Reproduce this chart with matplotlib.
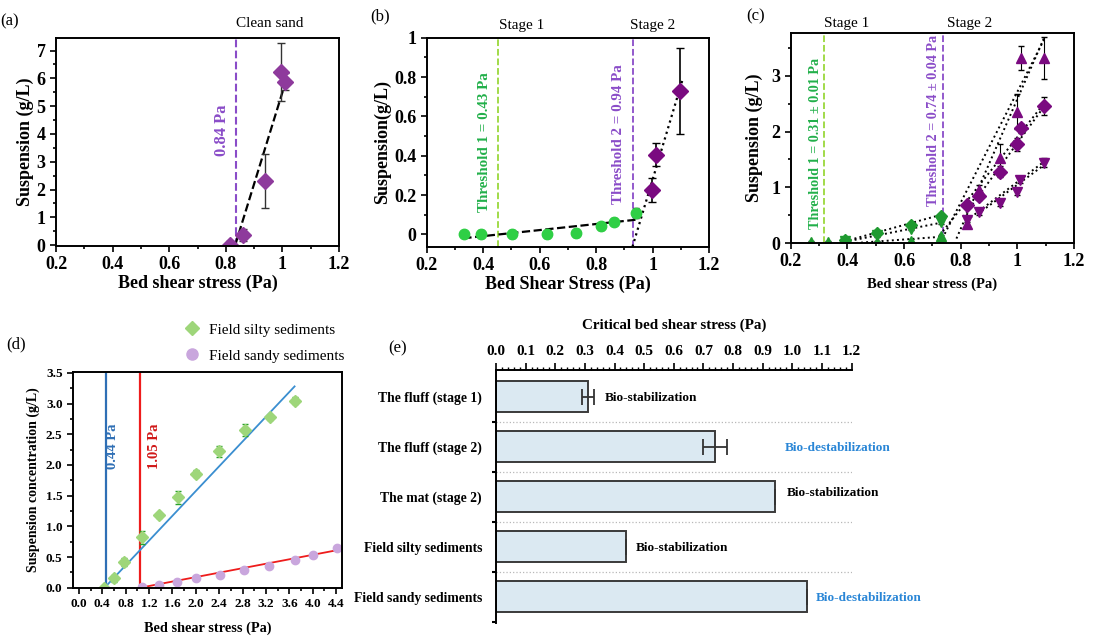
import numpy as np
import matplotlib.pyplot as plt
from matplotlib.ticker import MultipleLocator
from matplotlib.lines import Line2D

plt.rcParams['font.family'] = ['Liberation Serif', 'DejaVu Serif']

# ---------------- data ----------------
# (a) clean sand
a_x = [0.815, 0.86, 0.94, 0.995, 1.01]
a_y = [0.02, 0.37, 2.30, 6.22, 5.88]
a_err = [0.12, 0.22, 0.98, 1.05, 0.30]
a_fit_x = [0.833, 1.003]
a_fit_y = [0.0, 5.6]
a_thr = 0.835

# (b) stage 1 (green) and stage 2 (purple)
b1_x = [0.332, 0.391, 0.504, 0.625, 0.728, 0.819, 0.864, 0.943]
b1_y = [0.0, 0.0, 0.0, 0.0, 0.005, 0.04, 0.065, 0.108]
b1_err = [0.01, 0.02, 0.02, 0.02, 0.02, 0.02, 0.02, 0.025]
b2_x = [0.9995, 1.011, 1.096]
b2_y = [0.224, 0.405, 0.73]
b2_err = [0.06, 0.06, 0.22]
b_fit1_x = [0.33, 0.94]
b_fit1_y = [-0.02, 0.074]
b_fit2_x = [0.929, 1.105]
b_fit2_y = [-0.063, 0.78]
b_thr1 = 0.454
b_thr2 = 0.931

# (c) three replicates, stage 1 (green) and stage 2 (purple)
c1a_x = [0.27, 0.33, 0.39, 0.505, 0.625, 0.73]
c1a_y = [0.01, 0.01, 0.03, 0.01, 0.04, 0.12]
c1b_x = [0.39, 0.505, 0.625, 0.73]
c1b_y = [0.06, 0.18, 0.33, 0.49]
c1c_x = [0.39, 0.505, 0.625, 0.73]
c1c_y = [0.04, 0.14, 0.26, 0.37]
c2a_x = [0.823, 0.864, 0.938, 0.997, 1.014, 1.094]
c2a_y = [0.35, 0.95, 1.52, 2.36, 3.32, 3.32]
c2a_err = [0.08, 0.10, 0.25, 0.31, 0.21, 0.37]
c2b_x = [0.823, 0.864, 0.938, 0.997, 1.012, 1.094]
c2b_y = [0.68, 0.85, 1.28, 1.77, 2.06, 2.46]
c2b_err = [0.05, 0.08, 0.10, 0.12, 0.08, 0.17]
c2c_x = [0.823, 0.864, 0.938, 0.997, 1.008, 1.094]
c2c_y = [0.42, 0.56, 0.71, 0.91, 1.13, 1.44]
c2c_err = [0.05, 0.05, 0.04, 0.05, 0.05, 0.08]
c_fit1 = [([0.39, 0.726], [0.03, 0.50]),
          ([0.39, 0.726], [0.02, 0.36]),
          ([0.43, 0.726], [0.0, 0.11])]
c_fit2 = [([0.727, 1.097], [0.0, 3.68]),
          ([0.785, 1.094], [0.08, 3.68]),
          ([0.726, 1.09], [0.14, 2.48]),
          ([0.809, 1.09], [0.47, 2.42]),
          ([0.82, 1.094], [0.40, 1.46]),
          ([0.86, 1.094], [0.52, 1.40])]
c_thr1 = 0.317
c_thr2 = 0.738

# (d) field sediments
silty_x = [0.435, 0.606, 0.777, 1.074, 1.375, 1.70, 2.0, 2.40, 2.84, 3.27, 3.69]
silty_y = [0.0, 0.15, 0.42, 0.82, 1.18, 1.47, 1.86, 2.22, 2.57, 2.78, 3.05]
silty_err = [0.02, 0.06, 0.06, 0.10, 0.04, 0.10, 0.06, 0.09, 0.09, 0.04, 0.06]
sandy_x = [1.074, 1.375, 1.68, 2.0, 2.41, 2.83, 3.26, 3.69, 4.01, 4.41]
sandy_y = [0.01, 0.05, 0.10, 0.15, 0.21, 0.29, 0.36, 0.45, 0.53, 0.64]
sandy_err = [0.02, 0.02, 0.02, 0.02, 0.02, 0.02, 0.03, 0.03, 0.03, 0.03]
silty_fit_x = [0.44, 3.69]
silty_fit_y = [0.0, 3.28]
sandy_fit_x = [1.05, 4.41]
sandy_fit_y = [0.0, 0.61]
silty_thr = 0.46
sandy_thr = 1.05

# (e) critical bed shear stress
e_labels = ['The fluff (stage 1)', 'The fluff (stage 2)', 'The mat (stage 2)',
            'Field silty sediments', 'Field sandy sediments']
e_vals = [0.31, 0.74, 0.94, 0.44, 1.05]
e_err = [0.02, 0.04, 0, 0, 0]
e_notes = ['Bio-stabilization', 'Bio-destabilization', 'Bio-stabilization',
           'Bio-stabilization', 'Bio-destabilization']
e_note_x = [0.368, 0.975, 0.98, 0.472, 1.08]

purple = '#8e3a9c'
dpurple = '#7a0a80'
vline_p = '#8a4cc8'
green_b = '#2fcf45'
green_c = '#1f9a30'
vline_g = '#9ad83a'
txt_g = '#22b04a'


def style(ax, fs=13):
    for s in ax.spines.values():
        s.set_linewidth(1.4)
    ax.tick_params(which='both', direction='out', width=1.2, labelsize=fs)
    ax.tick_params(which='major', length=4)
    ax.tick_params(which='minor', length=2.5)
    for t in ax.get_xticklabels() + ax.get_yticklabels():
        t.set_fontweight('bold')


fig = plt.figure(figsize=(11.16, 6.37), dpi=100)

# ---------------- (a) ----------------
ax = fig.add_axes([0.0502, 0.6138, 0.2536, 0.3265])
ax.axvline(a_thr, color=vline_p, ls='--', lw=1.5)
ax.plot(a_fit_x, a_fit_y, 'k--', lw=1.6)
ax.errorbar(a_x, a_y, yerr=a_err, fmt='D', color=purple, ms=8, ecolor='#333333',
            elinewidth=1, capsize=3)
ax.set_xlim(0.2, 1.2)
ax.set_ylim(-0.03, 7.45)
ax.set_xticks([0.2, 0.4, 0.6, 0.8, 1.0, 1.2], ['0.2', '0.4', '0.6', '0.8', '1', '1.2'])
ax.xaxis.set_minor_locator(MultipleLocator(0.1))
ax.yaxis.set_major_locator(MultipleLocator(1))
ax.yaxis.set_minor_locator(MultipleLocator(0.5))
style(ax)
ax.set_xlabel('Bed shear stress (Pa)', fontsize=13, fontweight='bold', labelpad=1)
ax.set_ylabel('Suspension (g/L)', fontsize=13, fontweight='bold', labelpad=2)
ax.text(0.785, 4.15, '0.84 Pa', rotation=90, color=vline_p, fontsize=12,
        fontweight='bold', ha='center', va='center')
ax.text(0.955, 7.75, 'Clean sand', fontsize=11, ha='center', va='bottom')
fig.text(0.0, 0.966, '(a)', fontsize=12, va='center')

# ---------------- (b) ----------------
ax = fig.add_axes([0.3823, 0.6127, 0.2530, 0.3281])
ax.axvline(b_thr1, color=vline_g, ls='--', lw=1.3)
ax.axvline(b_thr2, color=vline_p, ls='--', lw=1.3)
ax.plot(b_fit1_x, b_fit1_y, 'k--', lw=1.6)
ax.plot(b_fit2_x, b_fit2_y, 'k:', lw=1.6)
ax.errorbar(b1_x, b1_y, yerr=b1_err, fmt='o', color=green_b, ms=7.5, ecolor='k',
            elinewidth=1.2, capsize=2)
ax.errorbar(b2_x, b2_y, yerr=b2_err, fmt='D', color=dpurple, ms=8, ecolor='k',
            elinewidth=1.2, capsize=3)
ax.set_xlim(0.2, 1.2)
ax.set_ylim(-0.063, 1.0)
ax.set_xticks([0.2, 0.4, 0.6, 0.8, 1.0, 1.2], ['0.2', '0.4', '0.6', '0.8', '1', '1.2'])
ax.set_yticks([0, 0.2, 0.4, 0.6, 0.8, 1.0], ['0', '0.2', '0.4', '0.6', '0.8', '1'])
ax.xaxis.set_minor_locator(MultipleLocator(0.1))
ax.yaxis.set_minor_locator(MultipleLocator(0.1))
style(ax)
ax.set_xlabel('Bed Shear Stress (Pa)', fontsize=13, fontweight='bold', labelpad=1)
ax.set_ylabel('Suspension(g/L)', fontsize=13, fontweight='bold', labelpad=2)
ax.text(0.406, 0.47, 'Threshold 1 = 0.43 Pa', rotation=90, color=txt_g, fontsize=10.8,
        fontweight='bold', ha='center', va='center')
ax.text(0.878, 0.51, 'Threshold 2 = 0.94 Pa', rotation=90, color=vline_p, fontsize=10.8,
        fontweight='bold', ha='center', va='center')
ax.text(0.536, 1.03, 'Stage 1', fontsize=11, ha='center', va='bottom')
ax.text(1.0, 1.03, 'Stage 2', fontsize=11, ha='center', va='bottom')
fig.text(0.332, 0.975, '(b)', fontsize=12, va='center')

# ---------------- (c) ----------------
ax = fig.add_axes([0.7085, 0.6185, 0.2539, 0.3297])
ax.axvline(c_thr1, color=vline_g, ls='--', lw=1.3)
ax.axvline(c_thr2, color=vline_p, ls='--', lw=1.3)
for fx, fy in c_fit1 + c_fit2:
    ax.plot(fx, fy, 'k:', lw=1.4)
for xs, ys, m in [(c1a_x, c1a_y, '^'), (c1b_x, c1b_y, 'D'), (c1c_x, c1c_y, 'v')]:
    ax.errorbar(xs, ys, yerr=0.03, fmt=m, color=green_c, ms=6.5, ecolor='k',
                elinewidth=0.8, capsize=2)
for xs, ys, es, m in [(c2a_x, c2a_y, c2a_err, '^'), (c2b_x, c2b_y, c2b_err, 'D'),
                      (c2c_x, c2c_y, c2c_err, 'v')]:
    ax.errorbar(xs, ys, yerr=es, fmt=m, color=dpurple, ms=7, ecolor='k',
                elinewidth=0.8, capsize=2)
ax.set_xlim(0.2, 1.2)
ax.set_ylim(0, 3.77)
ax.set_xticks([0.2, 0.4, 0.6, 0.8, 1.0, 1.2], ['0.2', '0.4', '0.6', '0.8', '1', '1.2'])
ax.set_yticks([0, 1, 2, 3])
ax.xaxis.set_minor_locator(MultipleLocator(0.1))
ax.yaxis.set_minor_locator(MultipleLocator(0.5))
style(ax)
ax.set_xlabel('Bed shear stress (Pa)', fontsize=10.5, fontweight='bold', labelpad=5)
ax.set_ylabel('Suspension (g/L)', fontsize=13, fontweight='bold', labelpad=6)
ax.text(0.286, 1.79, 'Threshold 1 = 0.31 ± 0.01 Pa', rotation=90, color=txt_g,
        fontsize=10.2, fontweight='bold', ha='center', va='center')
ax.text(0.703, 2.2, 'Threshold 2 = 0.74 ± 0.04 Pa', rotation=90, color=vline_p,
        fontsize=10.2, fontweight='bold', ha='center', va='center')
ax.text(0.397, 3.83, 'Stage 1', fontsize=11, ha='center', va='bottom')
ax.text(0.832, 3.83, 'Stage 2', fontsize=11, ha='center', va='bottom')
fig.text(0.669, 0.975, '(c)', fontsize=12, va='center')

# ---------------- (d) ----------------
ax = fig.add_axes([0.0654, 0.0774, 0.2410, 0.3391])
ax.plot([silty_thr, silty_thr], [0, 3.52], color='#2f6fb5', lw=1.6)
ax.plot([sandy_thr, sandy_thr], [0, 3.52], color='#ee1c1c', lw=1.6)
ax.plot(silty_fit_x, silty_fit_y, color='#3a8ed0', lw=1.3)
ax.plot(sandy_fit_x, sandy_fit_y, color='#ee1c1c', lw=1.3)
ax.errorbar(silty_x, silty_y, yerr=silty_err, fmt='D', color='#9ed67a', ms=6,
            ecolor='#2aa02a', elinewidth=1, capsize=2)
ax.errorbar(sandy_x, sandy_y, yerr=sandy_err, fmt='o', color='#c9a6dd', ms=6,
            ecolor='#a070c0', elinewidth=1, capsize=2)
ax.set_xlim(-0.1, 4.5)
ax.set_ylim(0, 3.52)
ax.set_xticks(np.arange(0, 4.41, 0.4), [f'{v:.1f}' for v in np.arange(0, 4.41, 0.4)])
ax.yaxis.set_major_locator(MultipleLocator(0.5))
ax.yaxis.set_minor_locator(MultipleLocator(0.25))
ax.xaxis.set_minor_locator(MultipleLocator(0.2))
ax.yaxis.set_major_formatter('{x:.1f}')
style(ax, fs=9.5)
ax.set_xlabel('Bed shear stress (Pa)', fontsize=10.3, fontweight='bold', labelpad=8)
ax.set_ylabel('Suspension concentration (g/L)', fontsize=10, fontweight='bold')
ax.text(0.57, 2.3, '0.44 Pa', rotation=90, color='#2f6fb5', fontsize=10.5,
        fontweight='bold', ha='center', va='center')
ax.text(1.3, 2.3, '1.05 Pa', rotation=90, color='#d01818', fontsize=10.5,
        fontweight='bold', ha='center', va='center')
leg_h = [Line2D([], [], ls='none', marker='D', ms=7, color='#9ed67a'),
         Line2D([], [], ls='none', marker='o', ms=8, color='#c9a6dd')]
ax.legend(leg_h, ['Field silty sediments', 'Field sandy sediments'],
          loc='lower left', bbox_to_anchor=(0.38, 1.0), frameon=False, fontsize=11,
          handletextpad=0.6, labelspacing=0.8, borderaxespad=0.2, handlelength=1.0)
fig.text(0.006, 0.46, '(d)', fontsize=12, va='center')

# ---------------- (e) ----------------
ax = fig.add_axes([0.4444, 0.0224, 0.3187, 0.3967])
pos = np.arange(len(e_labels))
ax.barh(pos, e_vals, height=0.61, color='#dbe9f2', edgecolor='#3a3a3a', lw=1.4,
        xerr=e_err, error_kw=dict(ecolor='#333333', elinewidth=1.3, capsize=6, capthick=1.3))
for i in range(len(e_labels) - 1):
    ax.plot([0, 1.2], [i + 0.5, i + 0.5], color='#b8b8b8', ls=':', lw=0.9)
for i, (n, xv) in enumerate(zip(e_notes, e_note_x)):
    col = '#2a86d6' if 'de' in n else 'black'
    dy = -0.08 if i == 2 else 0.03
    ax.text(xv, i + dy, n, color=col, fontsize=9.5, fontweight='bold',
            va='center', ha='left', clip_on=False)
ax.set_xlim(0, 1.2)
ax.set_ylim(4.52, -0.53)
ax.xaxis.tick_top()
ax.xaxis.set_label_position('top')
ax.set_xticks(np.arange(0, 1.21, 0.1), [f'{v:.1f}' for v in np.arange(0, 1.21, 0.1)])
ax.xaxis.set_minor_locator(MultipleLocator(0.02))
ax.set_yticks(pos, e_labels)
ax.set_yticks(np.arange(0.5, 4.6, 1.0), minor=True)
ax.spines['right'].set_visible(False)
ax.spines['bottom'].set_visible(False)
ax.spines['top'].set_linewidth(1.4)
ax.spines['left'].set_linewidth(1.4)
ax.tick_params(axis='x', which='major', direction='out', length=5, width=1.2, labelsize=11)
ax.tick_params(axis='x', which='minor', direction='out', length=2.5, width=1)
ax.tick_params(axis='y', which='major', length=0, pad=10, labelsize=9.8)
ax.tick_params(axis='y', which='minor', direction='out', length=3, width=1.5)
for t in ax.get_xticklabels() + ax.get_yticklabels():
    t.set_fontweight('bold')
ax.set_xlabel('Critical bed shear stress (Pa)', fontsize=10.8, fontweight='bold',
              labelpad=12)
fig.text(0.348, 0.453, '(e)', fontsize=12, va='center')

fig.savefig('out.png', dpi=100)
